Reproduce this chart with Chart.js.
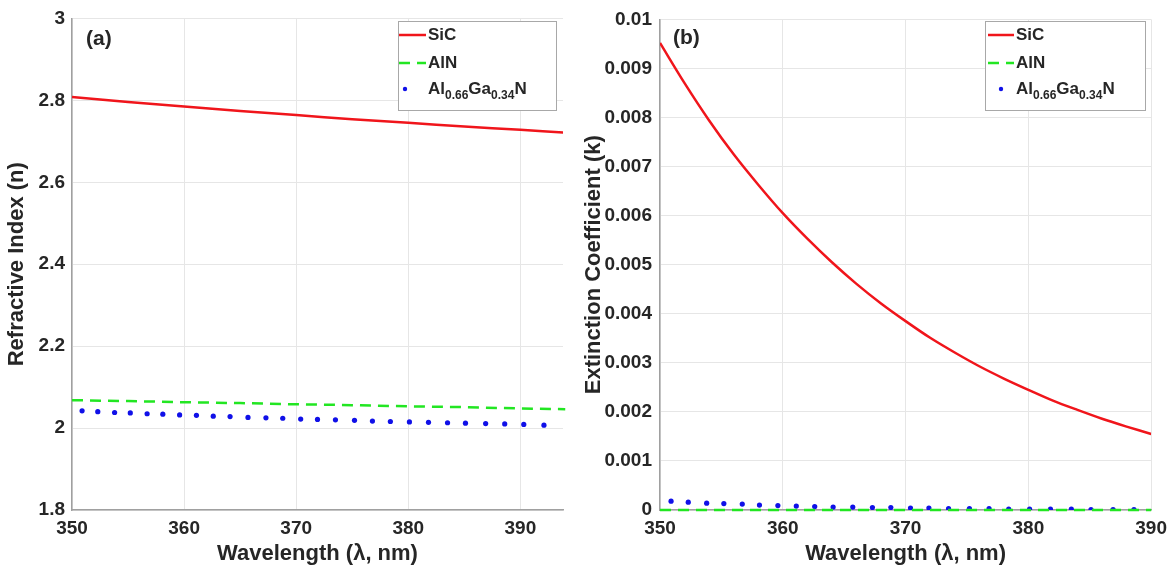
<!DOCTYPE html>
<html>
<head>
<meta charset="utf-8">
<title>Refractive index and extinction coefficient</title>
<script src="https://cdn.jsdelivr.net/npm/chart.js@4.4.1/dist/chart.umd.min.js"></script>
<style>
  html, body { margin: 0; padding: 0; background: #fff; }
  #wrap { position: relative; width: 1174px; height: 572px; }
  #chartA { position: absolute; left: 0; top: 0; }
  #chartB { position: absolute; left: 580px; top: 0; }
</style>
</head>
<body>
<div id="wrap">
  <canvas id="chartA" width="580" height="572"></canvas>
  <canvas id="chartB" width="594" height="572"></canvas>
</div>
<script>
// legend labels (TeX-like subscripts)
const labels = ["SiC", "AlN", "Al_{0.66}Ga_{0.34}N"];

// (a) refractive index n
const wlLineA = [350, 355, 360, 365, 370, 375, 380, 385, 390, 394];
const sicN = [2.808, 2.796, 2.785, 2.774, 2.764, 2.754, 2.745, 2.736, 2.728, 2.721];
const alnN = [2.068, 2.066, 2.063, 2.061, 2.058, 2.056, 2.053, 2.051, 2.048, 2.046];

// dotted AlGaN series, sampled wavelengths
const wlDots = [350.9, 352.3, 353.8, 355.2, 356.7, 358.1, 359.6, 361.1, 362.6, 364.1,
                365.7, 367.3, 368.8, 370.4, 371.9, 373.5, 375.2, 376.8, 378.4, 380.1,
                381.8, 383.5, 385.1, 386.9, 388.6, 390.3, 392.1];
const alganN = [2.042, 2.040, 2.038, 2.037, 2.035, 2.034, 2.032, 2.031, 2.029, 2.028,
                2.026, 2.025, 2.024, 2.022, 2.021, 2.020, 2.019, 2.017, 2.016, 2.015,
                2.014, 2.013, 2.012, 2.011, 2.010, 2.009, 2.007];

// (b) extinction coefficient k
const wlLineB = [350, 352, 354, 356, 358, 360, 362, 364, 366, 368, 370,
                 372, 374, 376, 378, 380, 382, 384, 386, 388, 390];
const sicK = [0.00952, 0.00870, 0.00794, 0.00725, 0.00663, 0.00605, 0.00553, 0.00505, 0.00461, 0.00421, 0.00385,
              0.00351, 0.00321, 0.00293, 0.00268, 0.00245, 0.00223, 0.00204, 0.00186, 0.00170, 0.00155];
const alnK = [0, 0, 0, 0, 0, 0, 0, 0, 0, 0, 0, 0, 0, 0, 0, 0, 0, 0, 0, 0, 0];
const alganK = [0.00018, 0.00016, 0.00014, 0.00013, 0.00012, 0.00010, 0.00009, 0.00008, 0.00007, 0.00006,
                0.00006, 0.00005, 0.00005, 0.00004, 0.00004, 0.00003, 0.00003, 0.00003, 0.00002, 0.00002,
                0.00002, 0.00002, 0.00001, 0.00001, 0.00001];

// tick values
const xTicks = [350, 360, 370, 380, 390];
const yTicksA = [1.8, 2, 2.2, 2.4, 2.6, 2.8, 3];
const yTicksB = [0, 0.001, 0.002, 0.003, 0.004, 0.005, 0.006, 0.007, 0.008, 0.009, 0.01];

const FONT = '"Liberation Sans", Arial, Helvetica, sans-serif';
const TXT = "#262626";
const RED = "#f0151b";
const GREEN = "#22e622";
const BLUE = "#1010e8";

const pts = (xs, ys) => ys.map((y, i) => ({ x: xs[i], y: y }));

// draws "Al_{0.66}Ga_{0.34}N" with real subscripts
function drawRich(ctx, text, x, y) {
    const parts = text.split(/(_\{[^}]*\})/).filter(s => s.length);
    let cx = x;
    ctx.textBaseline = "middle";
    ctx.textAlign = "left";
    ctx.fillStyle = TXT;
    parts.forEach(p => {
        if (p.startsWith("_{")) {
            const s = p.slice(2, -1);
            ctx.font = "bold 12px " + FONT;
            ctx.fillText(s, cx, y + 7);
            cx += ctx.measureText(s).width;
        } else {
            ctx.font = "bold 17px " + FONT;
            ctx.fillText(p, cx, y);
            cx += ctx.measureText(p).width;
        }
    });
}

// panel letter and boxed legend, like the original figure
const panelDecor = {
    id: "panelDecor",
    afterDatasetsDraw(chart, args, o) {
        const ctx = chart.ctx;
        ctx.save();
        ctx.fillStyle = TXT;
        ctx.font = "bold 21px " + FONT;
        ctx.textBaseline = "middle";
        ctx.textAlign = "left";
        ctx.fillText(o.tag, o.tagX, o.tagY);

        const b = o.box;
        ctx.fillStyle = "#fff";
        ctx.fillRect(b.x, b.y, b.w, b.h);
        ctx.strokeStyle = "#a8a8a8";
        ctx.lineWidth = 1;
        ctx.strokeRect(b.x + 0.5, b.y + 0.5, b.w, b.h);

        chart.data.datasets.forEach((ds, i) => {
            const ry = b.y + o.rows[i];
            if (ds.showLine) {
                ctx.strokeStyle = ds.borderColor;
                ctx.lineWidth = ds.borderWidth;
                ctx.setLineDash(ds.borderDash || []);
                ctx.beginPath();
                ctx.moveTo(b.x + o.lineFrom, ry);
                ctx.lineTo(b.x + o.lineTo, ry);
                ctx.stroke();
                ctx.setLineDash([]);
            } else {
                ctx.fillStyle = ds.backgroundColor;
                ctx.beginPath();
                ctx.arc(b.x + o.dotX, ry, 2.2, 0, Math.PI * 2);
                ctx.fill();
            }
            drawRich(ctx, ds.label, b.x + o.textX, ry);
        });
        ctx.restore();
    }
};

function makeChart(canvasId, cfg) {
    return new Chart(document.getElementById(canvasId), {
        type: "scatter",
        data: {
            datasets: [
                {
                    label: labels[0],
                    data: cfg.sic,
                    showLine: true,
                    borderColor: RED,
                    backgroundColor: RED,
                    borderWidth: 2.5,
                    pointRadius: 0,
                    tension: 0.3
                },
                {
                    label: labels[1],
                    data: cfg.aln,
                    showLine: true,
                    borderColor: GREEN,
                    backgroundColor: GREEN,
                    borderWidth: 2.5,
                    borderDash: [11, 7],
                    pointRadius: 0,
                    clip: false
                },
                {
                    label: labels[2],
                    data: cfg.algan,
                    showLine: false,
                    backgroundColor: BLUE,
                    borderWidth: 0,
                    pointRadius: 2.6,
                    pointHoverRadius: 2.6
                }
            ]
        },
        options: {
            responsive: false,
            animation: false,
            layout: { padding: { top: 15, right: cfg.padRight, left: 0, bottom: 0 } },
            plugins: {
                legend: { display: false },
                tooltip: { enabled: false },
                panelDecor: cfg.decor
            },
            scales: {
                x: {
                    type: "linear",
                    min: 350,
                    max: cfg.xMax,
                    afterBuildTicks: s => { s.ticks = xTicks.map(v => ({ value: v })); },
                    afterFit: s => { s.height = 62; },
                    grid: { color: "#e6e6e6", drawTicks: false },
                    border: { color: "#a0a0a0", width: 1.5 },
                    ticks: {
                        padding: 7,
                        color: TXT,
                        font: { family: FONT, size: 19, weight: "bold" },
                        callback: v => String(v)
                    },
                    title: {
                        display: true,
                        text: "Wavelength (\u03bb, nm)",
                        color: TXT,
                        font: { family: FONT, size: 22, weight: "bold" },
                        padding: { top: 0, bottom: 5 }
                    }
                },
                y: {
                    type: "linear",
                    min: cfg.yMin,
                    max: cfg.yMax,
                    afterBuildTicks: s => { s.ticks = cfg.yTicks.map(v => ({ value: v })); },
                    afterFit: s => { s.width = cfg.yWidth; },
                    grid: { color: "#e6e6e6", drawTicks: false },
                    border: { color: "#a0a0a0", width: 1.5 },
                    ticks: {
                        padding: cfg.yPad,
                        color: TXT,
                        font: { family: FONT, size: 19, weight: "bold" },
                        callback: v => String(parseFloat(v.toFixed(4)))
                    },
                    title: {
                        display: true,
                        text: cfg.yTitle,
                        color: TXT,
                        font: { family: FONT, size: 22, weight: "bold" },
                        padding: { top: cfg.yTitlePad, bottom: 0 }
                    }
                }
            }
        },
        plugins: [panelDecor]
    });
}

makeChart("chartA", {
    sic: pts(wlLineA, sicN),
    aln: pts(wlLineA, alnN),
    algan: pts(wlDots, alganN),
    xMax: 393.8,
    yMin: 1.8,
    yMax: 3,
    yTicks: yTicksA,
    yWidth: 72,
    yPad: 7,
    padRight: 17,
    yTitlePad: 4,
    yTitle: "Refractive Index (n)",
    decor: {
        tag: "(a)", tagX: 86, tagY: 39,
        box: { x: 398, y: 21, w: 158, h: 89 },
        rows: [14, 42, 68],
        lineFrom: 1, lineTo: 28, dotX: 7, textX: 30
    }
});

makeChart("chartB", {
    sic: pts(wlLineB, sicK),
    aln: pts(wlLineB, alnK),
    algan: pts(wlDots, alganK),
    xMax: 390,
    yMin: 0,
    yMax: 0.01,
    yTicks: yTicksB,
    yWidth: 80,
    yPad: 8,
    padRight: 22,
    yTitlePad: 1,
    yTitle: "Extinction Coefficient (k)",
    decor: {
        tag: "(b)", tagX: 93, tagY: 38,
        box: { x: 405, y: 21, w: 160, h: 89 },
        rows: [14, 42, 68],
        lineFrom: 3, lineTo: 29, dotX: 16, textX: 31
    }
});
</script>
</body>
</html>
